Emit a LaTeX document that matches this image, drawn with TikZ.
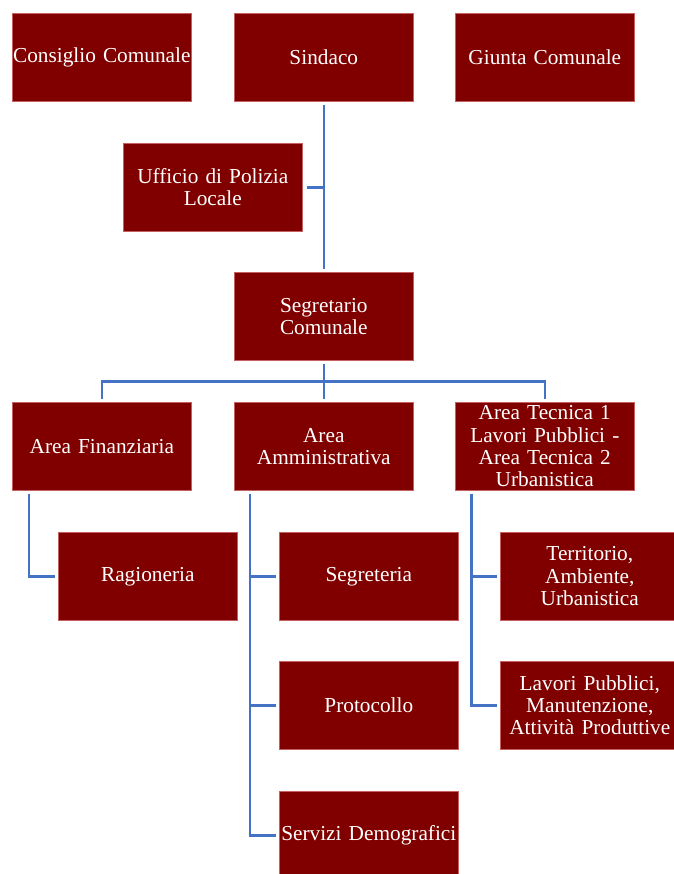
\documentclass[tikz,border=0pt]{standalone}
\usepackage{fontspec}
\setmainfont{Liberation Serif}
\definecolor{boxred}{RGB}{128,0,0}
\definecolor{boxedge}{RGB}{196,96,96}
\definecolor{linkblue}{RGB}{68,114,196}
\begin{document}
\begin{tikzpicture}[x=1pt,y=-1pt,
  unit/.style={anchor=north west,fill=boxred,draw=boxedge,line width=0.6pt,
    text=white,text width=179pt,inner sep=0pt,minimum height=88pt,align=center,
    font=\fontsize{21.3}{22.4}\selectfont},
  conn/.style={draw=linkblue,line width=2.5pt}]
\useasboundingbox (0,0) rectangle (673,874);
% row 1
\node[unit] (con) at (12,13) {Consiglio Comunale};
\node[unit] (sin) at (234,13) {Sindaco};
\node[unit] (giu) at (455,13) {Giunta Comunale};
% assistant
\node[unit] (pol) at (123,143) {Ufficio di Polizia\\Locale};
% secretary
\node[unit] (seg) at (234,272) {Segretario\\Comunale};
% areas
\node[unit] (fin) at (12,402) {Area Finanziaria};
\node[unit] (amm) at (234,402) {Area\\Amministrativa};
\node[unit] (tec) at (455,402) {Area Tecnica 1\\Lavori Pubblici -\\Area Tecnica 2\\Urbanistica};
% sub units
\node[unit] (rag) at (58,532) {Ragioneria};
\node[unit] (sgr) at (279,532) {Segreteria};
\node[unit] (pro) at (279,661) {Protocollo};
\node[unit] (dem) at (279,791) {Servizi Demografici};
\node[unit] (ter) at (500,532) {Territorio,\\Ambiente,\\Urbanistica};
\node[unit] (lav) at (500,661) {Lavori Pubblici,\\Manutenzione,\\Attività Produttive};
% connectors
\draw[conn] ([yshift=-3pt]sin.south) -- ([yshift=3pt]seg.north);
\draw[conn] ([xshift=4pt]pol.east) -- (pol.east -| sin.south);
\coordinate (bus) at (323.5,381.5);
\draw[conn] ([yshift=-3pt]seg.south) -- ([yshift=3pt]amm.north);
\draw[conn] ([yshift=3pt]fin.north) |- (bus) -| ([yshift=3pt]tec.north);
\coordinate (finx) at ([xshift=17pt,yshift=-3pt]fin.south west);
\draw[conn] (finx) |- ([xshift=-3pt]rag.west);
\coordinate (ammx) at ([xshift=16pt,yshift=-3pt]amm.south west);
\draw[conn] (ammx) |- ([xshift=-3pt]dem.west);
\draw[conn] ([xshift=-3pt]sgr.west) -- (sgr.west -| ammx);
\draw[conn] ([xshift=-3pt]pro.west) -- (pro.west -| ammx);
\coordinate (tecx) at ([xshift=16.5pt,yshift=-3pt]tec.south west);
\draw[conn] (tecx) |- ([xshift=-3pt]lav.west);
\draw[conn] ([xshift=-3pt]ter.west) -- (ter.west -| tecx);
\end{tikzpicture}
\end{document}
